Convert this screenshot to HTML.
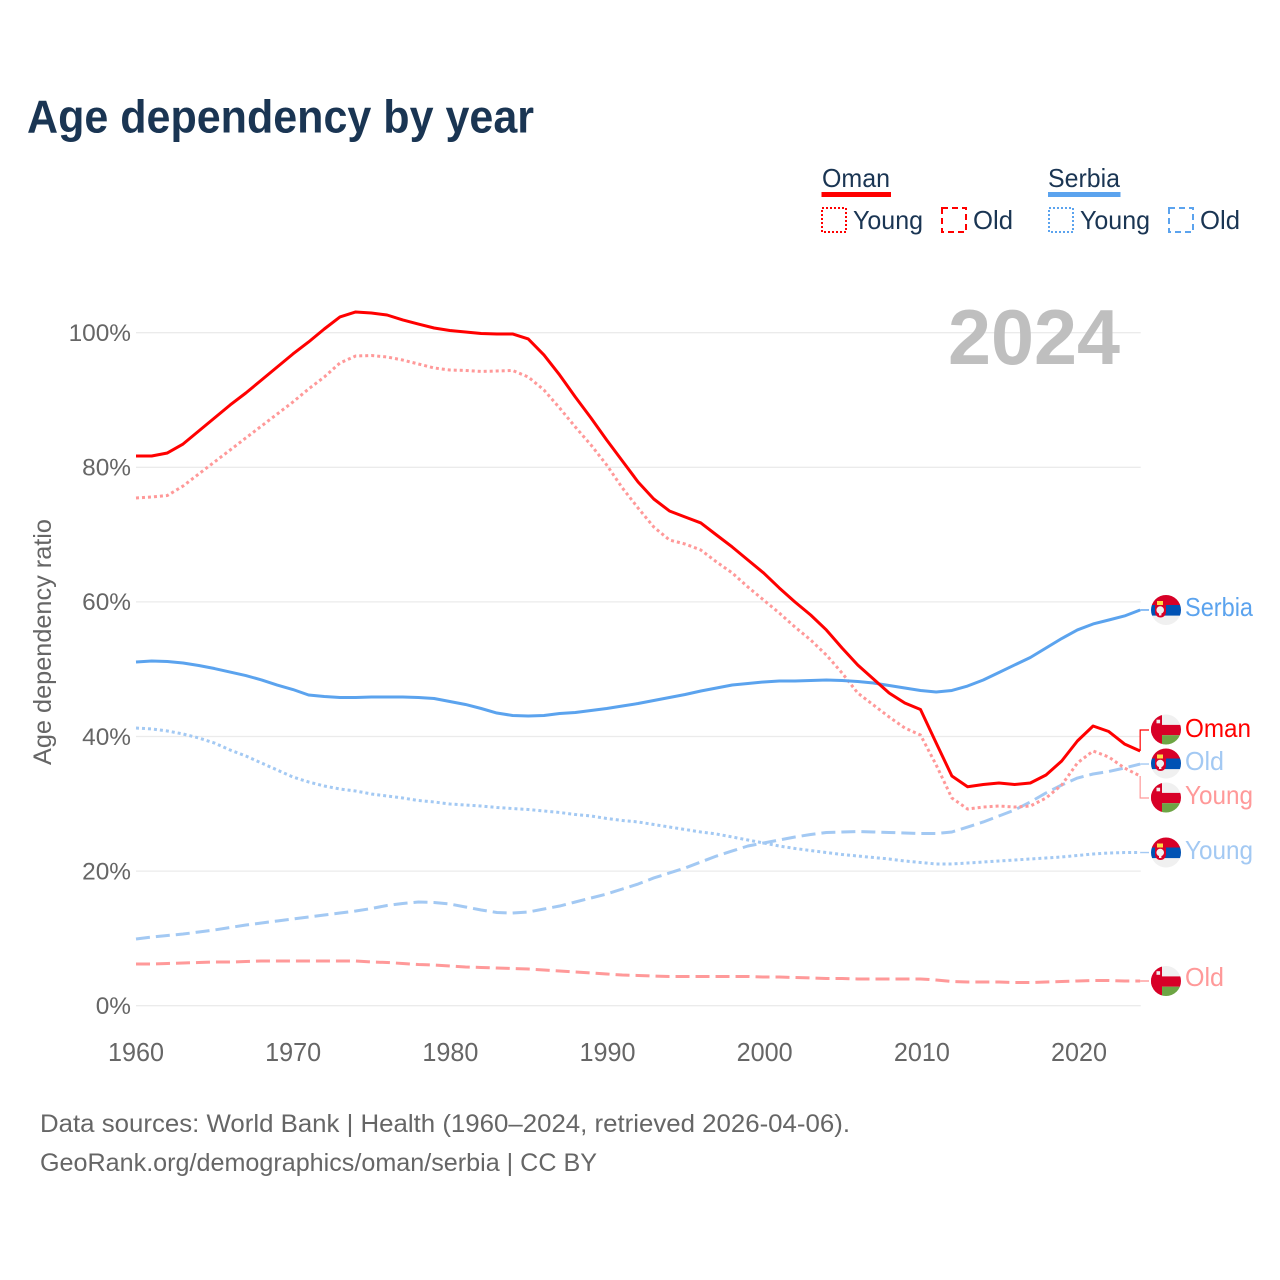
<!DOCTYPE html>
<html lang="en">
<head>
<meta charset="utf-8">
<title>Age dependency by year</title>
<style>
html,body{margin:0;padding:0;background:#fff;}
svg{display:block;font-family:"Liberation Sans",sans-serif;}
</style>
</head>
<body>
<svg id="chart" xmlns="http://www.w3.org/2000/svg" width="1280" height="1280" viewBox="0 0 1280 1280">
  <defs>
    <clipPath id="flag-clip"><circle cx="0" cy="0" r="15"/></clipPath>
    <g id="flag-serbia" clip-path="url(#flag-clip)">
      <rect x="-16" y="-16" width="32" height="32" fill="#f0f0f0"/>
      <rect x="-16" y="-16" width="32" height="11" fill="#d80027"/>
      <rect x="-16" y="-5" width="32" height="10.6" fill="#0052b4"/>
      <path d="M-11-5h11v7a5.500 5.500 0 0 1-11 0z" fill="#d80027"/>
      <rect x="-9" y="-9" width="6" height="4" fill="#ffda44"/>
      <circle cx="-5.800" cy="0" r="3.800" fill="#f0f0f0"/>
      <rect x="-7" y="2" width="2.400" height="3.500" fill="#f0f0f0"/>
    </g>
    <g id="flag-oman" clip-path="url(#flag-clip)">
      <rect x="-16" y="-16" width="32" height="32" fill="#f0f0f0"/>
      <rect x="-16" y="-16" width="12" height="32" fill="#d80027"/>
      <rect x="-16" y="-4.600" width="32" height="10.300" fill="#d80027"/>
      <rect x="-4" y="5.700" width="20" height="11" fill="#6da544"/>
      <rect x="-9.500" y="-9.800" width="3.600" height="3.600" fill="#eeeeee"/>
    </g>
  </defs>

  <rect x="0" y="0" width="1280" height="1280" fill="#ffffff"/>

  <text x="27" y="132.700" font-size="46" font-weight="700" fill="#1a3553" textLength="507" lengthAdjust="spacingAndGlyphs">Age dependency by year</text>

  <g font-size="26" fill="#1a3553">
    <text x="822" y="187" textLength="68" lengthAdjust="spacingAndGlyphs">Oman</text>
    <rect x="821.500" y="192" width="69.500" height="5" fill="#ff0000"/>
    <rect x="822" y="208" width="24" height="24" fill="none" stroke="#ff0000" stroke-width="2" stroke-dasharray="2,2"/>
    <text x="853" y="229" textLength="70" lengthAdjust="spacingAndGlyphs">Young</text>
    <rect x="942" y="208" width="24" height="24" fill="none" stroke="#ff0000" stroke-width="2" stroke-dasharray="6,4"/>
    <text x="973" y="229" textLength="40" lengthAdjust="spacingAndGlyphs">Old</text>
    <text x="1048" y="187" textLength="72" lengthAdjust="spacingAndGlyphs">Serbia</text>
    <rect x="1048" y="192" width="72.500" height="5" fill="#5ba3ee"/>
    <rect x="1049" y="208" width="24" height="24" fill="none" stroke="#5ba3ee" stroke-width="2" stroke-dasharray="2,2"/>
    <text x="1080" y="229" textLength="70" lengthAdjust="spacingAndGlyphs">Young</text>
    <rect x="1169" y="208" width="24" height="24" fill="none" stroke="#5ba3ee" stroke-width="2" stroke-dasharray="6,4"/>
    <text x="1200" y="229" textLength="40" lengthAdjust="spacingAndGlyphs">Old</text>
  </g>

  <text transform="translate(51,765) rotate(-90)" font-size="25" fill="#666666" textLength="246" lengthAdjust="spacingAndGlyphs">Age dependency ratio</text>

  <g id="grid"></g>
  <g id="y-ticks"></g>
  <g id="x-ticks"></g>

  <text x="948" y="364" font-size="78" font-weight="700" fill="#bfbfbf" textLength="172" lengthAdjust="spacingAndGlyphs">2024</text>

  <g id="series"></g>

  <g>
    <use href="#flag-serbia" x="1166" y="610"/>
    <use href="#flag-oman" x="1166" y="729.500"/>
    <use href="#flag-serbia" x="1166" y="763.500"/>
    <use href="#flag-oman" x="1166" y="797.500"/>
    <use href="#flag-serbia" x="1166" y="852.500"/>
    <use href="#flag-oman" x="1166" y="981"/>
  </g>
  <g font-size="26">
    <text x="1185" y="616" fill="#5ba3ee" textLength="68" lengthAdjust="spacingAndGlyphs">Serbia</text>
    <text x="1185" y="737" fill="#ff0000" textLength="66" lengthAdjust="spacingAndGlyphs">Oman</text>
    <text x="1185" y="770" fill="#a3c9f3" textLength="39" lengthAdjust="spacingAndGlyphs">Old</text>
    <text x="1185" y="804" fill="#ff9999" textLength="68" lengthAdjust="spacingAndGlyphs">Young</text>
    <text x="1185" y="859" fill="#a3c9f3" textLength="68" lengthAdjust="spacingAndGlyphs">Young</text>
    <text x="1185" y="986" fill="#ff9999" textLength="39" lengthAdjust="spacingAndGlyphs">Old</text>
  </g>

  <g font-size="25" fill="#666666">
    <text x="40" y="1132" textLength="810" lengthAdjust="spacingAndGlyphs">Data sources: World Bank | Health (1960–2024, retrieved 2026-04-06).</text>
    <text x="40" y="1171" textLength="557" lengthAdjust="spacingAndGlyphs">GeoRank.org/demographics/oman/serbia | CC BY</text>
  </g>
</svg>
<script>
const firstYear = 1960;
const xTickYears = [1960, 1970, 1980, 1990, 2000, 2010, 2020];
const yTickValues = [0, 20, 40, 60, 80, 100];

const omanTotal = [
  81.68,81.68,82.13,83.46,85.39,87.33,89.26,91.04,92.97,94.90,
  96.84,98.62,100.55,102.34,103.08,102.93,102.63,101.89,101.29,100.70,
  100.33,100.11,99.88,99.81,99.81,99.07,96.69,93.72,90.45,87.33,
  84.06,80.94,77.82,75.29,73.51,72.62,71.73,69.94,68.16,66.23,
  64.30,62.07,59.99,58.05,55.83,53.15,50.63,48.54,46.46,44.98,
  44.01,39.03,34.13,32.54,32.87,33.09,32.87,33.09,34.28,36.36,
  39.33,41.56,40.74,38.89,37.85
];
const omanYoung = [
  75.44,75.59,75.81,77.22,79.01,80.79,82.57,84.36,86.14,87.92,
  89.70,91.64,93.42,95.50,96.54,96.61,96.39,95.94,95.35,94.76,
  94.46,94.39,94.24,94.31,94.39,93.42,91.49,88.81,85.99,83.31,
  80.34,76.93,73.95,71.13,69.20,68.60,67.71,65.93,64.30,62.21,
  60.28,58.35,56.27,54.34,52.11,49.44,46.46,44.68,42.90,41.26,
  40.22,35.77,30.86,29.23,29.52,29.67,29.52,29.67,30.86,32.79,
  36.06,37.85,36.95,35.32,34.13
];
const omanOld = [
  6.20,6.20,6.27,6.34,6.42,6.49,6.49,6.57,6.64,6.64,
  6.64,6.64,6.64,6.64,6.64,6.49,6.42,6.27,6.12,6.05,
  5.90,5.75,5.68,5.60,5.53,5.45,5.30,5.16,5.01,4.86,
  4.71,4.56,4.49,4.41,4.34,4.34,4.34,4.34,4.34,4.34,
  4.26,4.26,4.19,4.12,4.04,4.04,3.97,3.97,3.97,3.97,
  3.97,3.82,3.60,3.52,3.52,3.52,3.45,3.45,3.52,3.60,
  3.67,3.74,3.74,3.67,3.67
];
const serbiaTotal = [
  51.07,51.22,51.14,50.92,50.55,50.10,49.58,49.06,48.40,47.65,
  46.98,46.17,45.94,45.80,45.80,45.87,45.87,45.87,45.80,45.65,
  45.20,44.76,44.16,43.49,43.12,43.05,43.12,43.42,43.57,43.86,
  44.16,44.53,44.90,45.35,45.80,46.24,46.76,47.21,47.65,47.88,
  48.10,48.25,48.25,48.32,48.40,48.32,48.17,47.95,47.58,47.21,
  46.84,46.61,46.84,47.50,48.40,49.51,50.63,51.74,53.15,54.56,
  55.83,56.72,57.31,57.91,58.80
];
const serbiaYoung = [
  41.26,41.12,40.82,40.37,39.78,39.03,37.99,37.10,36.06,35.02,
  33.98,33.24,32.65,32.20,31.90,31.46,31.16,30.86,30.49,30.27,
  29.97,29.82,29.67,29.45,29.30,29.15,28.93,28.71,28.41,28.19,
  27.82,27.52,27.30,26.92,26.55,26.18,25.81,25.51,25.07,24.62,
  24.18,23.73,23.36,23.06,22.76,22.47,22.24,22.02,21.80,21.50,
  21.28,21.06,21.06,21.20,21.35,21.50,21.65,21.80,21.95,22.10,
  22.32,22.54,22.69,22.76,22.76
];
const serbiaOld = [
  9.91,10.21,10.43,10.65,10.95,11.25,11.62,11.99,12.29,12.59,
  12.88,13.18,13.48,13.77,14.07,14.44,14.89,15.19,15.41,15.33,
  15.11,14.67,14.22,13.85,13.77,13.92,14.37,14.81,15.41,16.00,
  16.60,17.34,18.08,18.98,19.72,20.46,21.35,22.24,22.99,23.73,
  24.18,24.62,25.07,25.44,25.74,25.81,25.88,25.81,25.74,25.66,
  25.59,25.59,25.81,26.55,27.30,28.19,29.08,30.27,31.61,32.79,
  33.83,34.43,34.80,35.32,35.91
];

const NS = 'http://www.w3.org/2000/svg';
function xScale(year) { return 136 + (year - 1960) * 15.69; }
function yScale(value) { return 1005.7 - value * 6.73; }
function xTickPos(year) { return 136 + (year - 1960) * 15.717; }

function make(tag, attrs, parent) {
  const el = document.createElementNS(NS, tag);
  for (const k in attrs) el.setAttribute(k, attrs[k]);
  parent.appendChild(el);
  return el;
}

const gridGroup = document.getElementById('grid');
const yTickGroup = document.getElementById('y-ticks');
yTickValues.forEach(function (v) {
  const line = make('line', { x1: 136, x2: 1140.7, y1: yScale(v), y2: yScale(v), stroke: '#ebebeb', 'stroke-width': 1.3 }, gridGroup);
  
  
  const label = make('text', { x: 131, y: yScale(v) + 8.3, 'text-anchor': 'end', 'font-size': 24.4, fill: '#666666' }, yTickGroup);
  label.textContent = v + '%';
  
  
});

const xTickGroup = document.getElementById('x-ticks');
xTickYears.forEach(function (yr) {
  const label = make('text', { x: xTickPos(yr), y: 1061, 'text-anchor': 'middle', 'font-size': 26, fill: '#666666', textLength: 56, lengthAdjust: 'spacingAndGlyphs' }, xTickGroup);
  label.textContent = String(yr);
  
  
});

const seriesGroup = document.getElementById('series');

function drawSeries(values, color, dash, leaderY, leaderWidth) {
  const pts = values.map(function (v, i) {
    return xScale(firstYear + i).toFixed(2) + ',' + yScale(v).toFixed(2);
  });
  const attrs = { d: 'M' + pts.join('L'), fill: 'none', stroke: color, 'stroke-width': 3, 'stroke-linejoin': 'round' };
  if (dash) attrs['stroke-dasharray'] = dash;
  const path = make('path', attrs, seriesGroup);
  const endX = xScale(firstYear + values.length - 1);
  const endY = yScale(values[values.length - 1]);
  const ly = leaderY === null ? endY : leaderY;
  const leader = make('path', {
    d: 'M' + endX.toFixed(2) + ',' + endY.toFixed(2) + 'V' + ly.toFixed(2) + 'H1149',
    fill: 'none', stroke: color, 'stroke-width': leaderWidth
  }, seriesGroup);
  return { path: path, leader: leader };
}

const lineOmanOld = drawSeries(omanOld, '#ff9999', '14,6', null, 1.4);





const lineSerbiaOld = drawSeries(serbiaOld, '#a3c9f3', '14,6', null, 1.4);





const lineSerbiaYoung = drawSeries(serbiaYoung, '#a3c9f3', '3,3', null, 1.4);





const lineOmanYoung = drawSeries(omanYoung, '#ff9999', '3,3', 798, 1.2);





const lineSerbiaTotal = drawSeries(serbiaTotal, '#5ba3ee', null, null, 1.4);





const lineOmanTotal = drawSeries(omanTotal, '#ff0000', null, 730, 1.2);




</script>
</body>
</html>
